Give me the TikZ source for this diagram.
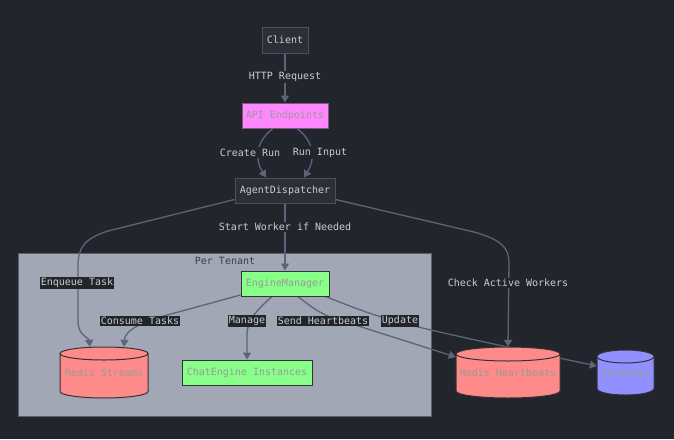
\documentclass[tikz,border=0pt]{standalone}
\usepackage{fontspec}
\setmonofont{DejaVu Sans Mono}
\usetikzlibrary{arrows.meta,calc}
\definecolor{bg}{HTML}{22252C}
\definecolor{nodefill}{HTML}{2B2F38}
\definecolor{nodeborder}{HTML}{4A505C}
\definecolor{edgecol}{HTML}{5B6478}
\definecolor{txt}{HTML}{CCCCCC}
\definecolor{mutedtxt}{HTML}{9A9A9A}
\definecolor{clusterfill}{HTML}{A1A7B4}
\definecolor{clusterborder}{HTML}{5A5F6B}
\definecolor{apifill}{HTML}{FF88FF}
\definecolor{apiborder}{HTML}{7A5A80}
\definecolor{greenfill}{HTML}{88FF88}
\definecolor{redfill}{HTML}{FF8A8A}
\definecolor{bluefill}{HTML}{9090FF}
\definecolor{darkborder}{HTML}{333333}
\definecolor{tenanttxt}{HTML}{3A3F4A}
\pgfdeclarelayer{edges}
\pgfdeclarelayer{back}
\pgfsetlayers{back,edges,main}
\tikzset{
  base/.style={font=\ttfamily\fontsize{10}{12}\selectfont, inner sep=0pt},
  darkbox/.style={base, rectangle, fill=nodefill, draw=nodeborder, line width=1pt, text=txt},
  apibox/.style={base, rectangle, fill=apifill, draw=apiborder, line width=1pt, text=mutedtxt},
  greenbox/.style={base, rectangle, fill=greenfill, draw=darkborder, line width=1pt, text=mutedtxt},
  cyltext/.style={base, rectangle, draw=none, text=mutedtxt},
  conn/.style={draw=edgecol, line width=1.3pt, -{Triangle[length=7pt,width=8pt]}},
  lbl/.style={base, fill=bg, inner xsep=0.8pt, inner ysep=1.5pt, text=txt},
}
\newcommand\cylnode[8]{%
  \filldraw[fill=#7, draw=darkborder, line width=1pt]
    (#2-#4/2, #3-#5/2+#6) -- (#2-#4/2, #3+#5/2-#6)
    arc[start angle=180, end angle=360, x radius=#4*0.5pt, y radius=#6pt]
    -- (#2+#4/2, #3-#5/2+#6)
    arc[start angle=0, end angle=180, x radius=#4*0.5pt, y radius=#6pt] -- cycle;
  \draw[darkborder, line width=1pt] (#2-#4/2, #3-#5/2+#6)
    arc[start angle=180, end angle=360, x radius=#4*0.5pt, y radius=#6pt];
  \node[cyltext, minimum width=#4pt, minimum height=#5pt] (#1) at (#2,#3) {#8};
}
\begin{document}
\begin{tikzpicture}[x=1pt,y=-1pt]
\begin{pgfonlayer}{back}
  \fill[bg] (0,0) rectangle (674,439);
  \path[use as bounding box] (0,0) rectangle (674,439);
  \filldraw[fill=clusterfill, draw=clusterborder, line width=1pt] (18,253) rectangle (431,416);
  \node[base, text=tenanttxt] (tenant) at (225,260.5) {Per Tenant};
\end{pgfonlayer}

\node[darkbox, minimum width=46pt, minimum height=26pt] (client) at (285,40) {Client};
\node[apibox, minimum width=86pt, minimum height=25pt] (api) at (285,115.5) {API Endpoints};
\node[darkbox, minimum width=100pt, minimum height=25pt] (ad) at (285,190.5) {AgentDispatcher};
\node[greenbox, minimum width=88pt, minimum height=25pt] (em) at (285,283.5) {EngineManager};
\node[greenbox, minimum width=130pt, minimum height=25pt] (ce) at (247,372.5) {ChatEngine Instances};
\cylnode{rs}{104}{372.5}{88}{51}{6.5}{redfill}{Redis Streams}
\cylnode{rh}{508}{372.5}{104}{51}{7}{redfill}{Redis Heartbeats}
\cylnode{db}{625.5}{372.5}{57}{45}{6.5}{bluefill}{Database}

\begin{pgfonlayer}{edges}
  \draw[conn] (client) -- (api);
  \node[lbl] (l1) at (285,77) {HTTP Request};
  \draw[conn] ([xshift=-12pt]api.south) .. controls (255,142) and (255,160) .. ([xshift=-19pt]ad.north);
  \node[lbl] (l2) at (250,152.5) {Create Run};
  \draw[conn] ([xshift=12pt]api.south) .. controls (315,142) and (315,160) .. ([xshift=19pt]ad.north);
  \node[lbl] (l3) at (320,152.5) {Run Input};
  \draw[conn] (ad) -- (em);
  \node[lbl] (l4) at (285,227) {Start Worker if Needed};
  \draw[conn] ([yshift=4pt]ad.south west) -- (108,231) .. controls (83,239) and (78,249) .. (78,266)
     -- (78,322) .. controls (78,335) and (89,338) .. ([xshift=-14pt]rs.north);
  \node[lbl] (l5) at (77,283) {Enqueue Task};
  \draw[conn] ([yshift=4pt]ad.south east) -- (474,232) .. controls (502,240) and (509,248) .. (509,263)
     -- (rh.north);
  \node[lbl] (l6) at (508,283) {Check Active Workers};
  \draw[conn] ([yshift=1.5pt]em.south west) -- (160,317) .. controls (135,325) and (125,332) .. ([xshift=20pt]rs.north);
  \node[lbl] (l7) at (140,321) {Consume Tasks};
  \draw[conn] ([xshift=-13pt]em.south) .. controls (256,311) and (247,320) .. (247,335) -- (ce.north);
  \node[lbl] (l8) at (247,321) {Manage};
  \draw[conn] ([xshift=13pt]em.south) .. controls (310,306) and (318,312) .. (330,317) -- ([yshift=15.5pt]rh.west);
  \node[lbl] (l9) at (323,321) {Send Heartbeats};
  \draw[conn] ([xshift=-4pt]em.south east) .. controls (390,322) .. ([yshift=6.5pt]db.west);
  \node[lbl] (l10) at (400,321) {Update};
\end{pgfonlayer}
\end{tikzpicture}
\end{document}
